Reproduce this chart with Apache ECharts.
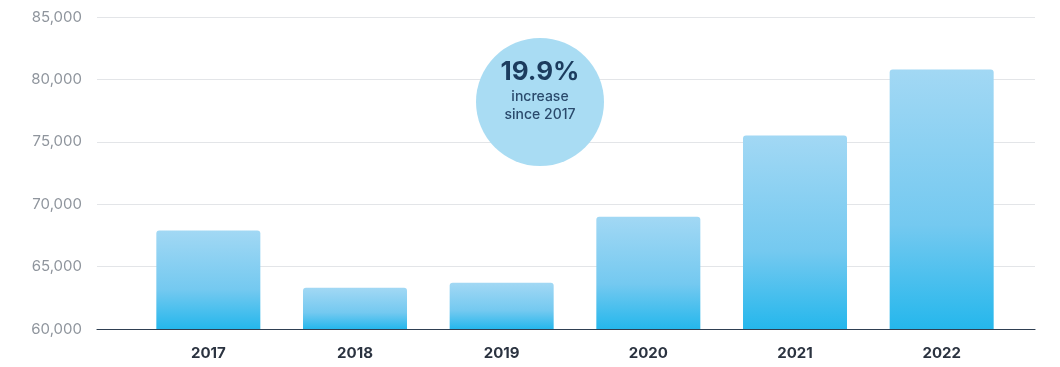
<!DOCTYPE html>
<html>
<head>
<meta charset="utf-8">
<script src="https://cdn.jsdelivr.net/npm/echarts@6/dist/echarts.min.js"></script>
<style>
  html, body { margin: 0; padding: 0; background: #fff; }
  #chart { width: 1060px; height: 367px; }
</style>
</head>
<body>
<div id="chart"></div>
<script>
// values
const years = ["2017", "2018", "2019", "2020", "2021", "2022"];
const counts = [67900, 63300, 63700, 69000, 75500, 80800];
const yMin = 60000, yMax = 85000, yStep = 5000;
const calloutLines = ["19.9%", "increase", "since 2017"];

const chart = echarts.init(document.getElementById("chart"));

chart.setOption({
  backgroundColor: "#fff",
  animation: false,
  grid: [
    // wide grid: carries the y labels, split lines and the baseline
    { left: 97, right: 25, top: 17, bottom: 38 },
    // narrower grid: carries the bars and the year labels
    { left: 135, right: 45, top: 17, bottom: 38 },
  ],
  xAxis: [
    {
      gridIndex: 0, type: "category", data: [""],
      axisLine: { show: true, lineStyle: { color: "#2f3f52", width: 1.2 } },
      axisTick: { show: false }, axisLabel: { show: false },
    },
    {
      gridIndex: 1, type: "category", data: years,
      axisLine: { show: false }, axisTick: { show: false },
      axisLabel: {
        margin: 17, color: "#2b3340", fontSize: 15, fontWeight: "bold",
        fontFamily: "Inter, 'Open Sans', sans-serif",
      },
    },
  ],
  yAxis: [
    {
      gridIndex: 0, type: "value", min: yMin, max: yMax, interval: yStep,
      axisLine: { show: false }, axisTick: { show: false },
      splitLine: { lineStyle: { color: "#e3e5e8" } },
      axisLabel: {
        margin: 15, color: "#8f959d", fontSize: 15,
        fontFamily: "Inter, 'Open Sans', sans-serif",
        formatter: v => v.toLocaleString("en-US"),
      },
    },
    {
      gridIndex: 1, type: "value", min: yMin, max: yMax, interval: yStep,
      show: false, splitLine: { show: false },
    },
  ],
  series: [{
    type: "bar",
    xAxisIndex: 1,
    yAxisIndex: 1,
    data: counts,
    barWidth: 104,
    itemStyle: {
      borderRadius: [3, 3, 0, 0],
      color: new echarts.graphic.LinearGradient(0, 0, 0, 1, [
        { offset: 0, color: "#a2d8f4" },
        { offset: 0.6, color: "#74c9f0" },
        { offset: 1, color: "#25b7ec" },
      ]),
    },
  }],
  graphic: [
    {
      type: "circle", z: 10,
      shape: { cx: 540, cy: 102, r: 64 },
      style: { fill: "#a9dcf3" },
    },
    {
      type: "text", z: 11, x: 540, y: 72,
      style: {
        text: calloutLines[0], align: "center", verticalAlign: "middle",
        fill: "#1c3c5e", font: "bold 26px Inter, 'Open Sans', sans-serif",
      },
    },
    {
      type: "text", z: 11, x: 540, y: 106,
      style: {
        text: calloutLines[1] + "\n" + calloutLines[2],
        align: "center", verticalAlign: "middle", lineHeight: 18,
        fill: "#2a4a6c", font: "500 14px Inter, 'Open Sans', sans-serif",
      },
    },
  ],
});
</script>
</body>
</html>
